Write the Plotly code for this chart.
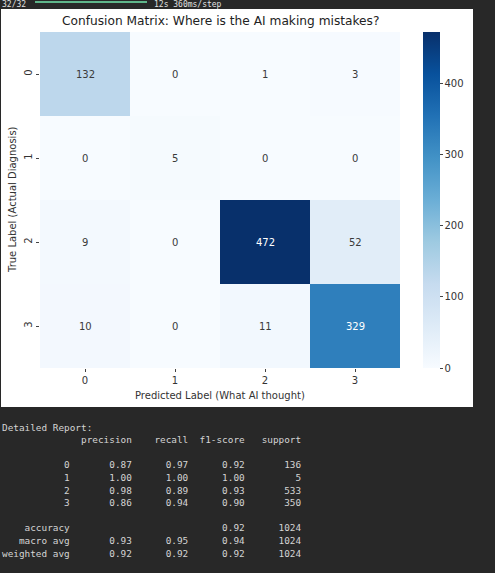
import plotly.graph_objects as go

# ---- data ----
labels = [0, 1, 2, 3]
cm = [
    [132, 0, 1, 3],
    [0, 5, 0, 0],
    [9, 0, 472, 52],
    [10, 0, 11, 329],
]
cb_ticks = [0, 100, 200, 300, 400]
report_classes = ["0", "1", "2", "3"]
precision = [0.87, 1.00, 0.98, 0.86]
recall = [0.97, 1.00, 0.89, 0.94]
f1 = [0.92, 1.00, 0.93, 0.90]
support = [136, 5, 533, 350]
accuracy = 0.92
macro = [0.93, 0.95, 0.94]
weighted = [0.92, 0.92, 0.92]
total = 1024

title = "Confusion Matrix: Where is the AI making mistakes?"
xlabel = "Predicted Label (What AI thought)"
ylabel = "True Label (Actual Diagnosis)"

# ---- styling ----
W, H = 495, 573
BG = "#282828"
blues = ["#f7fbff", "#deebf7", "#c6dbef", "#9ecae1", "#6baed6",
         "#4292c6", "#2171b5", "#08519c", "#08306b"]
cscale = [[i / (len(blues) - 1), c] for i, c in enumerate(blues)]


def px_y(y):
    return 1 - y / H


def px_x(x):
    return x / W


def hex2rgb(h):
    h = h.lstrip("#")
    return [int(h[i:i + 2], 16) for i in (0, 2, 4)]


def color_at(t):
    n = len(blues) - 1
    t = min(max(t, 0), 1)
    i = min(int(t * n), n - 1)
    f = t * n - i
    a, b = hex2rgb(blues[i]), hex2rgb(blues[i + 1])
    return [a[k] + (b[k] - a[k]) * f for k in range(3)]


def lum(rgb):
    out = []
    for c in rgb:
        c = c / 255
        out.append(c / 12.92 if c <= 0.03928 else ((c + 0.055) / 1.055) ** 2.4)
    return 0.2126 * out[0] + 0.7152 * out[1] + 0.0722 * out[2]


zmax = max(max(r) for r in cm)
zmin = min(min(r) for r in cm)

left, right, top, bottom = 40, 400, 32, 368
TXT = "#333333"

fig = go.Figure()
fig.add_trace(go.Heatmap(
    z=cm, x=labels, y=labels, colorscale=cscale, zmin=zmin, zmax=zmax,
    xgap=0, ygap=0, hoverinfo="skip",
    colorbar=dict(
        x=px_x(423), xanchor="left", xpad=0, thickness=17,
        y=px_y(top), yanchor="top", ypad=0, len=(bottom - top) / H, lenmode="fraction",
        outlinewidth=0, tickvals=cb_ticks, ticks="outside", ticklen=3,
        ticklabelposition="outside", tickcolor="#444",
        tickfont=dict(family="DejaVu Sans", size=10, color=TXT),
        tickprefix=" ",
    ),
))

anns = []
for i, row in enumerate(cm):
    for j, v in enumerate(row):
        c = color_at((v - zmin) / (zmax - zmin))
        tc = "#3a3a3a" if lum(c) > 0.408 else "#ffffff"
        anns.append(dict(x=labels[j], y=labels[i], xref="x", yref="y", text=str(v),
                         showarrow=False, font=dict(family="DejaVu Sans", size=10, color=tc)))

# title and axis titles
anns.append(dict(x=px_x(220), y=px_y(21), xref="paper", yref="paper", text=title,
                 showarrow=False, xanchor="center", yanchor="middle",
                 font=dict(family="DejaVu Sans", size=12.2, color="#222222")))
anns.append(dict(x=px_x(220), y=px_y(395), xref="paper", yref="paper", text=xlabel,
                 showarrow=False, xanchor="center", yanchor="middle",
                 font=dict(family="DejaVu Sans", size=10, color=TXT)))
anns.append(dict(x=px_x(12), y=px_y(200), xref="paper", yref="paper", text=ylabel,
                 showarrow=False, xanchor="center", yanchor="middle", textangle=-90,
                 font=dict(family="DejaVu Sans", size=10, color=TXT)))

# progress line at top
prog_font = dict(family="DejaVu Sans Mono", size=8, color="#e0e0e0")
anns.append(dict(x=0, y=px_y(4.5), xref="paper", yref="paper", text="32/32",
                 showarrow=False, xanchor="left", yanchor="middle", font=prog_font))
anns.append(dict(x=px_x(152), y=px_y(4.5), xref="paper", yref="paper", text="12s 360ms/step",
                 showarrow=False, xanchor="left", yanchor="middle", font=prog_font))

# classification report text
width = len("weighted avg")
lines = ["Detailed Report:"]
lines.append(f"{'':>{width}s} " + "".join(f" {h:>9}" for h in ["precision", "recall", "f1-score", "support"]))
lines.append("")
for k, name in enumerate(report_classes):
    lines.append(f"{name:>{width}s} " + f" {precision[k]:>9.2f}" + f" {recall[k]:>9.2f}"
                 + f" {f1[k]:>9.2f}" + f" {support[k]:>9}")
lines.append("")
lines.append(f"{'accuracy':>{width}s} " + f" {'':>9}" * 2 + f" {accuracy:>9.2f}" + f" {total:>9}")
lines.append(f"{'macro avg':>{width}s} " + "".join(f" {v:>9.2f}" for v in macro) + f" {total:>9}")
lines.append(f"{'weighted avg':>{width}s} " + "".join(f" {v:>9.2f}" for v in weighted) + f" {total:>9}")

y0, dy = 427, 12.6
for i, ln in enumerate(lines):
    if not ln:
        continue
    anns.append(dict(x=0, y=px_y(y0 + i * dy), xref="paper", yref="paper",
                     text=ln.replace(" ", "\u00a0"), showarrow=False,
                     xanchor="left", yanchor="middle",
                     font=dict(family="DejaVu Sans Mono", size=9.4, color="#d4d4d4")))

shapes = [
    dict(type="rect", xref="paper", yref="paper", x0=px_x(1), x1=px_x(473),
         y0=px_y(407), y1=px_y(9), fillcolor="white", line=dict(width=0), layer="below"),
    dict(type="line", xref="paper", yref="paper", x0=px_x(35), x1=px_x(147),
         y0=px_y(2), y1=px_y(2), line=dict(color="#5fb58a", width=2)),
]

fig.update_layout(
    width=W, height=H, margin=dict(l=0, r=0, t=0, b=0),
    paper_bgcolor=BG, plot_bgcolor="white",
    annotations=anns, shapes=shapes, showlegend=False,
    xaxis=dict(domain=[px_x(left), px_x(right)], tickvals=labels, ticks="outside",
               ticklen=3, tickcolor="#444", showgrid=False, zeroline=False,
               showline=False, fixedrange=True,
               tickfont=dict(family="DejaVu Sans", size=10, color=TXT)),
    yaxis=dict(domain=[px_y(bottom), px_y(top)], tickvals=labels, ticks="outside",
               ticklen=3, tickcolor="#444", showgrid=False, zeroline=False,
               showline=False, autorange="reversed", tickangle=-90, fixedrange=True,
               tickfont=dict(family="DejaVu Sans", size=10, color=TXT)),
)

fig.write_html("out.html")
